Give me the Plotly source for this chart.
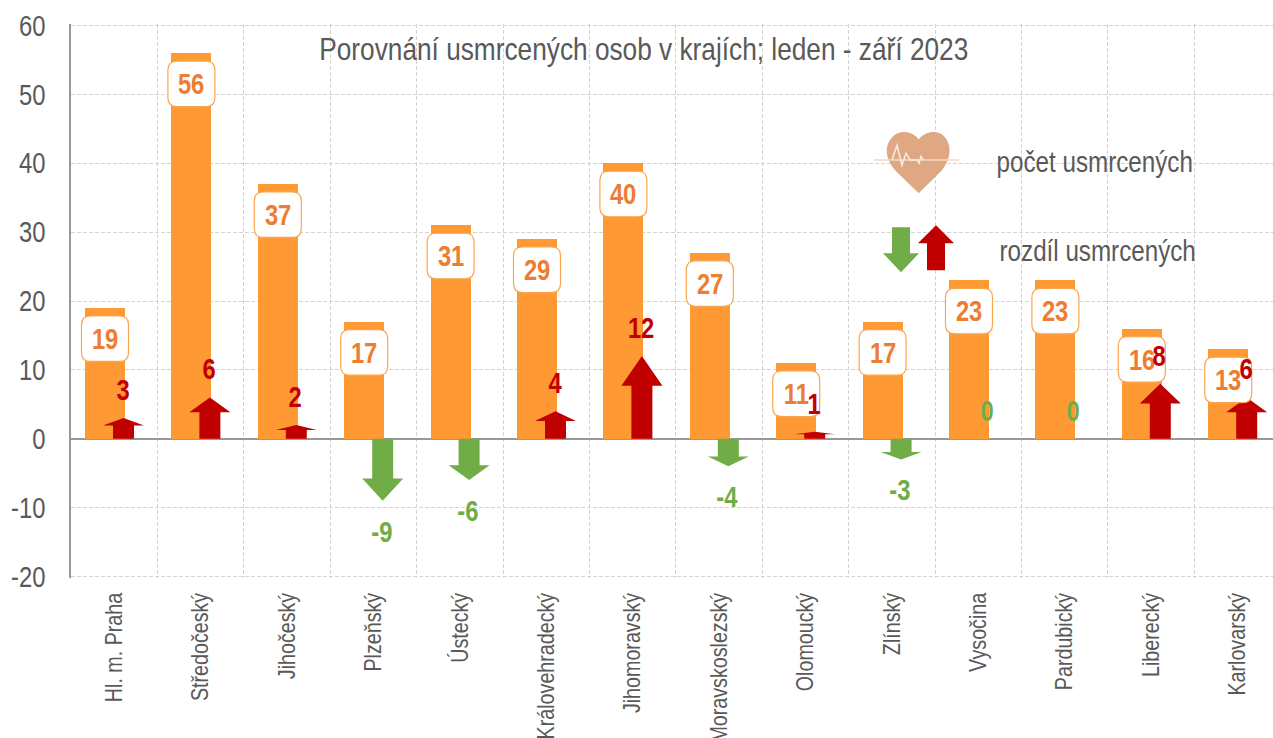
import plotly.graph_objects as go

categories = ["Hl. m. Praha", "Středočeský", "Jihočeský", "Plzeňský", "Ústecký", "Královehradecký",
              "Jihomoravský", "Moravskoslezský", "Olomoucký", "Zlínský", "Vysočina", "Pardubický",
              "Liberecký", "Karlovarský"]
deaths = [19, 56, 37, 17, 31, 29, 40, 27, 11, 17, 23, 23, 16, 13]
diffs = [3, 6, 2, -9, -6, 4, 12, -4, 1, -3, 0, 0, 8, 6]
y_ticks = [-20, -10, 0, 10, 20, 30, 40, 50, 60]
title_text = "Porovnání usmrcených osob v krajích; leden - září 2023"
legend_deaths = "počet usmrcených"
legend_diff = "rozdíl usmrcených"

W, H = 1273, 738
LEFT, GRID_TOP, GRID_BOTTOM = 71, 25.3, 576.3
CAT_PX = 86.4
Y_PX = (GRID_BOTTOM - GRID_TOP) / 80
PAD_PX = 1.5
TOP, BOTTOM = GRID_TOP - PAD_PX, GRID_BOTTOM + PAD_PX
FONT = "Liberation Sans, Arial"
GRAY = "#595959"
ORANGE = "#FF9933"
LABEL = "#ED7D31"
RED = "#C00000"
GREEN = "#70AD47"
HEART = "#DFA883"
AXIS = "#999999"
GRID = "#D4D4D4"

bar_off = -9.2 / CAT_PX
arrow_off = 9.3 / CAT_PX
head_half = 20.5 / CAT_PX
shaft_half = 10.5 / CAT_PX
HEAD_SHARE = 0.36


def arrow_outline(values):
    xs, ys = [], []
    for i, v in enumerate(values):
        c = i + arrow_off
        neck = v * (1 - HEAD_SHARE)
        xs += [c - shaft_half, c - shaft_half, c - head_half, c, c + head_half, c + shaft_half, c + shaft_half, c - shaft_half, None]
        ys += [0, neck, neck, v, neck, neck, 0, 0, None]
    return xs, ys


fig = go.Figure()
fig.add_bar(x=[i + bar_off for i in range(len(categories))], y=deaths, width=40 / CAT_PX,
            marker=dict(color=ORANGE, line_width=0), hoverinfo="skip", name="počet")
rx, ry = arrow_outline([v if v > 0 else 0 for v in diffs])
gx, gy = arrow_outline([v if v < 0 else 0 for v in diffs])
fig.add_scatter(x=rx, y=ry, mode="lines", fill="toself", fillcolor=RED, line=dict(width=0, color=RED), hoverinfo="skip")
fig.add_scatter(x=gx, y=gy, mode="lines", fill="toself", fillcolor=GREEN, line=dict(width=0, color=GREEN), hoverinfo="skip")


def rounded(x0, y0, x1, y1, r):
    return (f"M{x0 + r},{y0} L{x1 - r},{y0} Q{x1},{y0} {x1},{y0 + r} L{x1},{y1 - r} Q{x1},{y1} {x1 - r},{y1} "
            f"L{x0 + r},{y1} Q{x0},{y1} {x0},{y1 - r} L{x0},{y0 + r} Q{x0},{y0} {x0 + r},{y0} Z")


shapes = []
annotations = []
for i, (d, v) in enumerate(zip(deaths, diffs)):
    cx = i + bar_off
    shapes.append(dict(type="path", xref="x", yref="y", xsizemode="pixel", ysizemode="pixel",
                       xanchor=cx, yanchor=d, path=rounded(-23.5, -53.5, 23.5, -8, 9),
                       fillcolor="white", line=dict(color="#F9A54F", width=1.2), layer="above"))
    annotations.append(dict(x=cx, y=d, xref="x", yref="y", text=str(d), showarrow=False, yshift=-31,
                            font=dict(family=FONT, size=29, weight="bold", color=LABEL)))
for i, v in enumerate(diffs):
    shift = 28 if v >= 0 else -31
    annotations.append(dict(x=i + arrow_off - 1 / CAT_PX, y=v, xref="x", yref="y", text=str(v), showarrow=False,
                            yshift=shift, font=dict(family=FONT, size=29, weight="bold", color=RED if v > 0 else GREEN)))


def page_text(text, x, y, size=29):
    annotations.append(dict(xref="paper", yref="paper", x=(x - LEFT) / (W - LEFT), y=(BOTTOM - y) / (BOTTOM - TOP),
                            text=text, showarrow=False, xanchor="center", yanchor="middle",
                            font=dict(family=FONT, size=size, color=GRAY)))


page_text(title_text, 643.5, 49, 32)
page_text(legend_deaths, 1094, 161, 29.5)
page_text(legend_diff, 1097.5, 250, 29.5)


def icon(path, fill=None, line=None, width=0):
    pts = dict(type="path", xref="paper", yref="paper", xsizemode="pixel", ysizemode="pixel",
               xanchor=0, yanchor=1, path=path, layer="above", line=dict(width=width, color=line or "rgba(0,0,0,0)"))
    if fill:
        pts["fillcolor"] = fill
    shapes.append(pts)


def P(x, y):
    return f"{x - LEFT},{TOP - y}"


heart = (f"M{P(918.7, 193)} L{P(895, 170)} C{P(885, 158)} {P(884, 146)} {P(892, 137)} "
         f"C{P(900, 129)} {P(912, 131)} {P(918.7, 139)} C{P(926, 131)} {P(938, 129)} {P(945, 137)} "
         f"C{P(952, 146)} {P(951, 158)} {P(942, 170)} Z")
icon(heart, fill=HEART)
icon(f"M{P(874, 159.7)} L{P(959, 159.7)}", line="#F3D8C6", width=1.5)
pulse = [(892, 159.7), (897, 145), (902, 165), (906, 153), (910, 159.7), (917, 159.7), (919, 163), (921, 156), (923, 159.7)]
icon("M" + " L".join(P(*p) for p in pulse), line="#F8EBE2", width=1.5)
icon("M" + " L".join(P(*p) for p in [(892, 227), (910, 227), (910, 253), (919, 253), (901, 272), (883, 253), (892, 253)]) + " Z", fill=GREEN)
icon("M" + " L".join(P(*p) for p in [(927, 270), (945, 270), (945, 243), (954, 243), (936, 225), (918, 243), (927, 243)]) + " Z", fill=RED)

DASH = "4px,2px"
fig.update_layout(
    width=W, height=H, autosize=False, showlegend=False, paper_bgcolor="white", plot_bgcolor="white",
    margin=dict(l=LEFT, r=0, t=TOP, b=H - BOTTOM, pad=0, autoexpand=False),
    bargap=0, shapes=shapes, annotations=annotations,
    xaxis=dict(range=[-0.5, -0.5 + (W - LEFT) / CAT_PX], tickmode="array", automargin=False,
               tickvals=list(range(len(categories))), ticktext=categories, tickangle=-90,
               showgrid=False, zeroline=False, showline=False, ticks="", ticklabelstandoff=9,
               tickfont=dict(family=FONT, size=24, color=GRAY),
               minor=dict(tickmode="array", tickvals=[i - 0.5 for i in range(len(categories) + 1)], showgrid=True,
                          gridcolor=GRID, griddash=DASH, gridwidth=1, ticks="")),
    yaxis=dict(range=[-20 - PAD_PX / Y_PX, 60 + PAD_PX / Y_PX], tickmode="array", tickvals=y_ticks,
               ticktext=[str(t) for t in y_ticks], automargin=False,
               showgrid=True, gridcolor=GRID, griddash=DASH,
               gridwidth=1, zeroline=True, zerolinecolor=AXIS, zerolinewidth=1.5, showline=True, linecolor=AXIS,
               linewidth=1.5, ticks="", ticklabelstandoff=18, tickfont=dict(family=FONT, size=29, color=GRAY)),
)
narrow_js = """
document.body.style.margin='0';document.body.style.overflow='hidden';
function narrowText(){document.querySelectorAll('svg text').forEach(function(t){
  if(t.getAttribute('textLength'))return;
  var n=t.getComputedTextLength();
  if(n>0){t.setAttribute('lengthAdjust','spacingAndGlyphs');t.setAttribute('textLength',n*0.82);}
});}
narrowText();setTimeout(narrowText,50);setTimeout(narrowText,300);
"""
fig.write_html("out.html", config=dict(displayModeBar=False), post_script=narrow_js)
